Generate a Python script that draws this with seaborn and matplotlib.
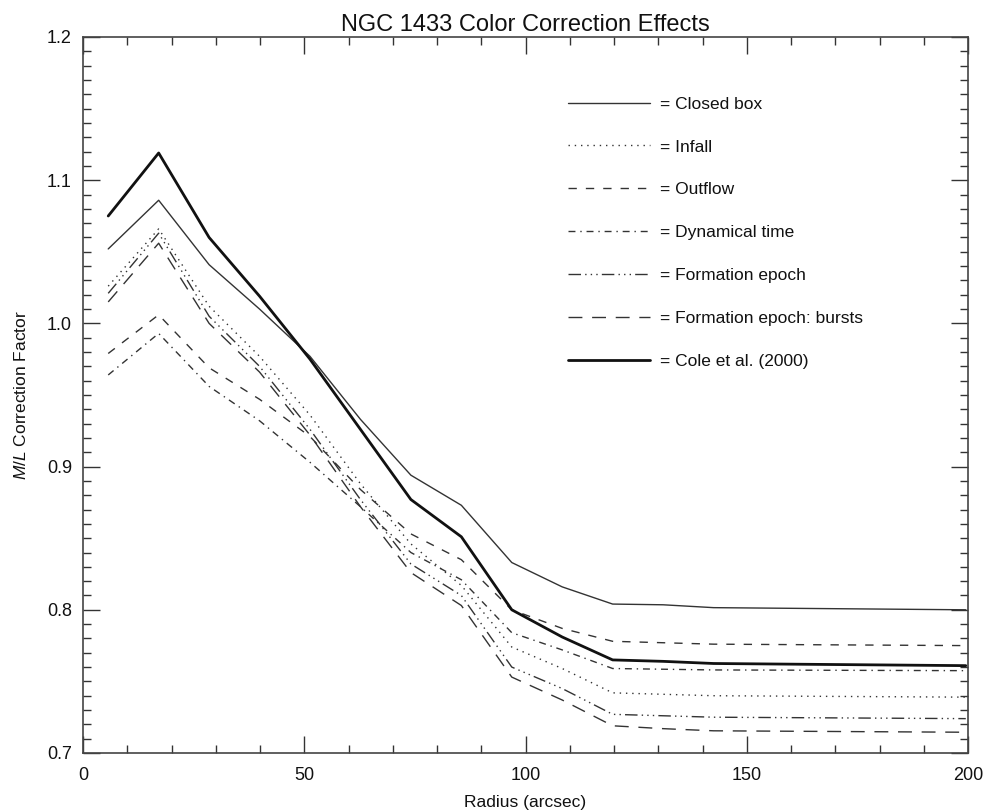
import matplotlib
matplotlib.use("Agg")
import matplotlib.pyplot as plt
from matplotlib.ticker import MultipleLocator
import seaborn as sns

radius = [5.7, 17.1, 28.5, 39.9, 51.3, 62.7, 74.1, 85.5, 96.9, 108.3, 119.7, 131.1, 142.5, 199.5]

closed_box = [1.052, 1.086, 1.041, 1.010, 0.977, 0.933, 0.894, 0.873, 0.833, 0.816, 0.804, 0.8035, 0.8015, 0.800]
infall = [1.026, 1.066, 1.012, 0.977, 0.936, 0.888, 0.846, 0.817, 0.774, 0.759, 0.742, 0.741, 0.740, 0.739]
outflow = [0.979, 1.006, 0.969, 0.947, 0.921, 0.884, 0.853, 0.835, 0.800, 0.787, 0.778, 0.777, 0.776, 0.775]
dynamical_time = [0.964, 0.993, 0.956, 0.932, 0.903, 0.872, 0.840, 0.821, 0.784, 0.772, 0.759, 0.7585, 0.758, 0.7575]
formation_epoch = [1.021, 1.063, 1.005, 0.970, 0.926, 0.877, 0.832, 0.810, 0.760, 0.745, 0.727, 0.726, 0.725, 0.724]
formation_bursts = [1.015, 1.056, 1.000, 0.966, 0.922, 0.872, 0.826, 0.803, 0.753, 0.737, 0.719, 0.717, 0.7155, 0.7145]
cole = [1.075, 1.119, 1.060, 1.019, 0.975, 0.926, 0.877, 0.851, 0.800, 0.781, 0.765, 0.764, 0.7625, 0.761]

labels = ["= Closed box", "= Infall", "= Outflow", "= Dynamical time",
          "= Formation epoch", "= Formation epoch: bursts", "= Cole et al. (2000)"]
series = [closed_box, infall, outflow, dynamical_time, formation_epoch, formation_bursts, cole]

styles = [
    dict(linestyle="-", lw=1.0, color="#333333"),
    dict(linestyle=(0, (1, 3.5)), lw=1.0, color="#333333"),
    dict(linestyle=(0, (6, 6.5)), lw=1.0, color="#333333"),
    dict(linestyle=(0, (5, 3.5, 1, 3.5)), lw=1.0, color="#333333"),
    dict(linestyle=(0, (9, 3, 1, 3, 1, 3, 1, 3)), lw=1.0, color="#333333"),
    dict(linestyle=(0, (10, 7)), lw=1.0, color="#333333"),
    dict(linestyle="-", lw=2.0, color="#111111"),
]

sns.set_style("ticks")
plt.rcParams["font.family"] = ["Liberation Sans", "DejaVu Sans"]
plt.rcParams["mathtext.fontset"] = "custom"
plt.rcParams["mathtext.it"] = "Liberation Sans:italic"
plt.rcParams["mathtext.rm"] = "Liberation Sans"

fig = plt.figure(figsize=(9.87, 8.11), dpi=100)
ax = fig.add_axes([83 / 987, 1 - 753 / 811, (968 - 83) / 987, (753 - 37) / 811])

for vals, lab, st in zip(series, labels, styles):
    sns.lineplot(x=radius, y=vals, ax=ax, label=lab, **st)

ax.set_xlim(0, 200)
ax.set_ylim(0.7, 1.2)
ax.xaxis.set_major_locator(MultipleLocator(50))
ax.xaxis.set_minor_locator(MultipleLocator(10))
ax.yaxis.set_major_locator(MultipleLocator(0.1))
ax.yaxis.set_minor_locator(MultipleLocator(0.01))
ax.yaxis.set_major_formatter(matplotlib.ticker.FormatStrFormatter("%.1f"))
ax.xaxis.set_major_formatter(matplotlib.ticker.FormatStrFormatter("%d"))

ax.tick_params(which="both", direction="in", top=True, right=True, color="#333333",
               width=1.0, labelsize=13, labelcolor="#111111")
ax.tick_params(which="major", length=12, pad=8)
ax.tick_params(axis="x", which="major", pad=10)
ax.tick_params(which="minor", length=6)
for sp in ax.spines.values():
    sp.set_linewidth(1.2)
    sp.set_color("#444444")

ax.set_xlabel("Radius (arcsec)", fontsize=12.5, labelpad=8, color="#111111")
ax.set_ylabel(r"$\it{M/L}$ Correction Factor", fontsize=12.5, labelpad=13, color="#111111")
ax.set_title("NGC 1433 Color Correction Effects", fontsize=17, pad=4, color="#111111")

leg = ax.legend(loc="upper left", bbox_to_anchor=(0.548, 0.917), frameon=False,
                fontsize=12.5, handlelength=4.7, handletextpad=0.6, labelspacing=1.6,
                borderpad=0, borderaxespad=0)
for t in leg.get_texts():
    t.set_color("#111111")

fig.savefig("out.png", dpi=100)
